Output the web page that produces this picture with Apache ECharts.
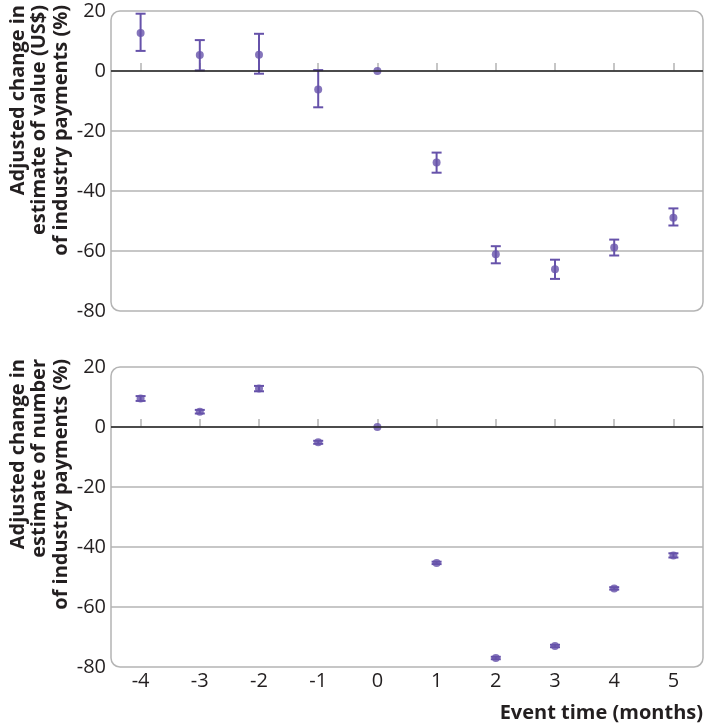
<!DOCTYPE html>
<html>
<head>
<meta charset="utf-8">
<script src="https://cdn.jsdelivr.net/npm/echarts@6/dist/echarts.min.js"></script>
<style>
html,body{margin:0;padding:0;background:#fff;}
#chart{width:705px;height:728px;}
</style>
</head>
<body>
<div id="chart"></div>
<script>
// ---- data ----
var categories = ['-4', '-3', '-2', '-1', '0', '1', '2', '3', '4', '5'];
var yTicks = [-80, -60, -40, -20, 0, 20];

var valueEst = [12.7, 5.3, 5.4, -6.2, 0, -30.5, -61.1, -66.1, -58.8, -48.9];
var valueLo  = [6.7, 0.2, -0.9, -12.1, 0, -33.9, -64.1, -69.3, -61.5, -51.5];
var valueHi  = [19.1, 10.3, 12.4, 0.3, 0, -27.2, -58.4, -62.9, -56.2, -45.8];

var numberEst = [9.5, 5.1, 12.8, -5.1, 0, -45.3, -77.0, -73.0, -53.8, -42.8];
var numberLo  = [8.7, 4.5, 11.9, -5.6, 0, -45.7, -77.4, -73.4, -54.2, -43.5];
var numberHi  = [10.3, 5.7, 13.7, -4.6, 0, -44.9, -76.6, -72.6, -53.4, -42.1];

var titleTop = ['Adjusted change in', 'estimate of value (US$)', 'of industry payments (%)'];
var titleBottom = ['Adjusted change in', 'estimate of number', 'of industry payments (%)'];
var xTitle = 'Event time (months)';

// ---- style / layout ----
var FONT = '"Open Sans", "DejaVu Sans", sans-serif';
var PURPLE = '#6652aa';
var GREY = '#b4b4b4';
var TEXT = '#231f20';
var G = [
  {left: 111, top: 11, width: 592, height: 300},
  {left: 111, top: 367, width: 592, height: 300}
];

function errData(lo, hi) {
  return categories.map(function (c, i) { return [i, lo[i], hi[i]]; });
}
function renderErr(params, api) {
  var lo = api.value(1), hi = api.value(2);
  if (lo === hi) return null;
  var p1 = api.coord([api.value(0), hi]);
  var p2 = api.coord([api.value(0), lo]);
  var hw = 5;
  var st = {stroke: PURPLE, lineWidth: 2, fill: null};
  return {
    type: 'group',
    children: [
      {type: 'line', shape: {x1: p1[0], y1: p1[1], x2: p2[0], y2: p2[1]}, style: st},
      {type: 'line', shape: {x1: p1[0] - hw, y1: p1[1], x2: p1[0] + hw, y2: p1[1]}, style: st},
      {type: 'line', shape: {x1: p2[0] - hw, y1: p2[1], x2: p2[0] + hw, y2: p2[1]}, style: st}
    ]
  };
}

function xAxisDef(idx, showLabel) {
  return {
    type: 'category', gridIndex: idx, data: categories, boundaryGap: true,
    axisLine: {show: false},
    axisTick: {show: true, inside: true, length: 8, alignWithLabel: true, lineStyle: {color: GREY, width: 1.5}},
    axisLabel: {show: showLabel, color: TEXT, fontFamily: FONT, fontSize: 20, margin: 4},
    splitLine: {show: false}
  };
}
function yAxisDef(idx) {
  return {
    type: 'value', gridIndex: idx, min: yTicks[0], max: yTicks[yTicks.length - 1], interval: 20,
    axisLine: {show: false}, axisTick: {show: false},
    axisLabel: {color: TEXT, fontFamily: FONT, fontSize: 20, margin: 5},
    splitLine: {show: true, lineStyle: {color: ['transparent', GREY, GREY, GREY, GREY, 'transparent'], width: 1.5}}
  };
}
var zeroLine = {
  silent: true, symbol: 'none', label: {show: false}, animation: false,
  lineStyle: {color: '#222', width: 1.5, type: 'solid'},
  data: [{yAxis: 0}]
};

function titleTexts(lines, topY) {
  var xs = [18, 39.5, 61];
  return lines.map(function (t, i) {
    return {
      type: 'text', x: xs[i], y: topY, rotation: Math.PI / 2,
      style: {text: t, fill: TEXT, font: 'bold 20px ' + FONT, align: 'right', verticalAlign: 'middle'}
    };
  });
}

var chart = echarts.init(document.getElementById('chart'), null, {renderer: 'canvas'});
chart.setOption({
  animation: false,
  backgroundColor: '#fff',
  grid: G,
  xAxis: [xAxisDef(0, false), xAxisDef(1, true)],
  yAxis: [yAxisDef(0), yAxisDef(1)],
  graphic: [
    {type: 'rect', z: 5, silent: true, shape: {x: G[0].left, y: G[0].top, width: G[0].width, height: G[0].height, r: 9},
     style: {fill: null, stroke: GREY, lineWidth: 1.5}},
    {type: 'rect', z: 5, silent: true, shape: {x: G[1].left, y: G[1].top, width: G[1].width, height: G[1].height, r: 9},
     style: {fill: null, stroke: GREY, lineWidth: 1.5}},
    {type: 'text', right: 2, top: 703, style: {text: xTitle, fill: TEXT, font: 'bold 20px ' + FONT}}
  ].concat(titleTexts(titleTop, 5)).concat(titleTexts(titleBottom, 359)),
  series: [
    {type: 'custom', xAxisIndex: 0, yAxisIndex: 0, renderItem: renderErr, data: errData(valueLo, valueHi),
     encode: {x: 0, y: [1, 2]}, z: 3, markLine: zeroLine},
    {type: 'scatter', xAxisIndex: 0, yAxisIndex: 0, data: valueEst, symbol: 'circle', symbolSize: 8,
     itemStyle: {color: PURPLE}, z: 4},
    {type: 'custom', xAxisIndex: 1, yAxisIndex: 1, renderItem: renderErr, data: errData(numberLo, numberHi),
     encode: {x: 0, y: [1, 2]}, z: 3, markLine: zeroLine},
    {type: 'scatter', xAxisIndex: 1, yAxisIndex: 1, data: numberEst, symbol: 'circle', symbolSize: 8,
     itemStyle: {color: PURPLE}, z: 4}
  ]
});
</script>
</body>
</html>
